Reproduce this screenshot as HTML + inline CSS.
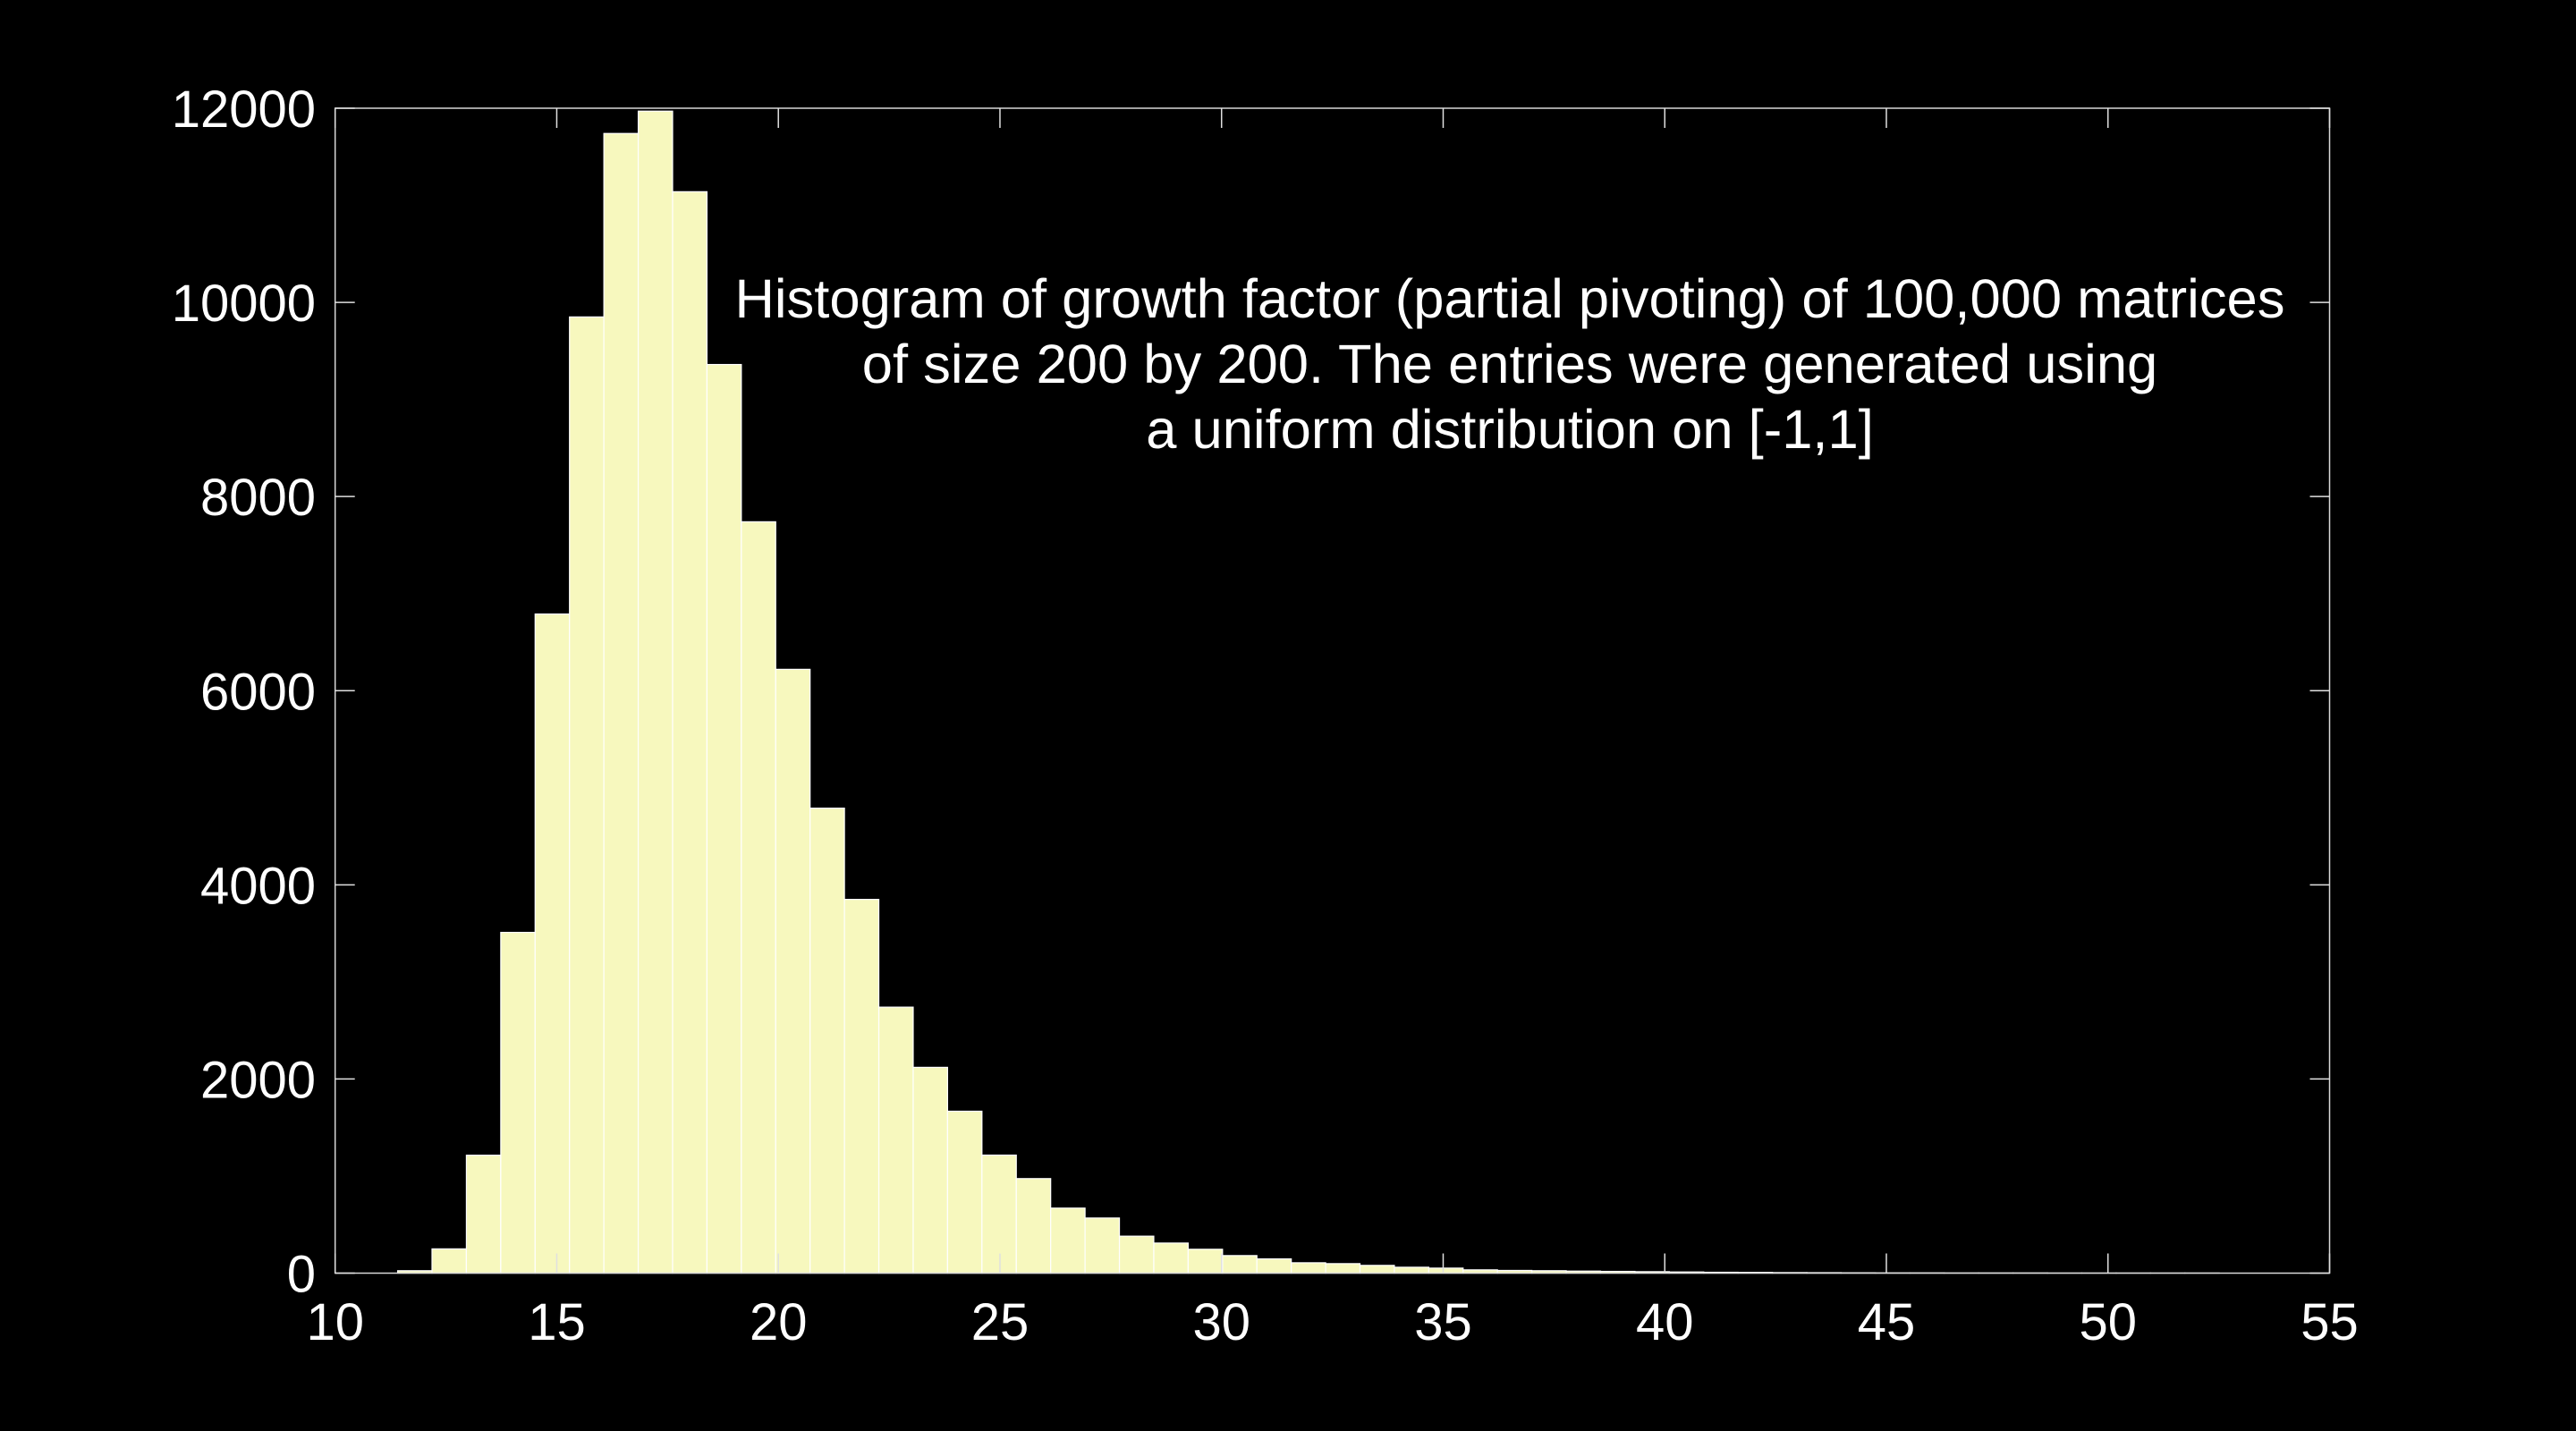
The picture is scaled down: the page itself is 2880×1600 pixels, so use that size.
<!DOCTYPE html>
<html><head><meta charset="utf-8"><style>
html,body{margin:0;padding:0;background:#000;}
svg{display:block;}
text{font-family:"Liberation Sans",sans-serif;fill:#fff;}
</style></head><body>
<svg id="chart" width="2880" height="1600" viewBox="0 0 2880 1600" xmlns="http://www.w3.org/2000/svg">
<rect width="2880" height="1600" fill="#000"/>
<g id="bars"></g>
<g id="axes"></g>
<g font-size="61.5" text-anchor="middle">
<text x="1688" y="355">Histogram of growth factor (partial pivoting) of 100,000 matrices</text>
<text x="1688" y="428">of size 200 by 200. The entries were generated using</text>
<text x="1688" y="501">a uniform distribution on [-1,1]</text>
</g>
</svg>
<script>
const binStart = 11.41;
const binWidth = 0.7755;
const counts = [25,250,1215,3510,6790,9850,11740,11970,11140,9360,7740,6220,4790,3850,2740,2120,1668,1216,974,670,568,381,310,246,181,147,107,98,80,61,52,34,28,25,21,18,15,12,9,8,6,5,4,3,3,2,2,2,1,1,1,1,1];
const xTicks = [10,15,20,25,30,35,40,45,50,55];
const yTicks = [0,2000,4000,6000,8000,10000,12000];

const L=374.7,R=2604.5,T=121,B=1423.5;
const xMin=10,xMax=55,yMax=12000;
const sx=v=>L+(v-xMin)/(xMax-xMin)*(R-L);
const sy=v=>B-v/yMax*(B-T);
const NS='http://www.w3.org/2000/svg';
const bars=document.getElementById('bars');
const axes=document.getElementById('axes');
function mk(tag,attrs,parent){const e=document.createElementNS(NS,tag);for(const k in attrs)e.setAttribute(k,attrs[k]);parent.appendChild(e);return e;}
counts.forEach((c,i)=>{
  const x0=sx(binStart+i*binWidth),x1=sx(binStart+(i+1)*binWidth);
  const r=mk('rect',{x:x0,y:sy(c),width:x1-x0,height:B-sy(c),fill:'#f7f8be',stroke:'#ffffff','stroke-width':1.2},bars);
  
  
});
const box=mk('rect',{x:L,y:T,width:R-L,height:B-T,fill:'none',stroke:'#d8d8d8','stroke-width':1.5},axes);


const tl=22;
xTicks.forEach(v=>{
  const x=sx(v);
  const t1=mk('line',{x1:x,y1:B,x2:x,y2:B-tl,stroke:'#e0e0e0','stroke-width':1.5},axes);
  
  
  const t2=mk('line',{x1:x,y1:T,x2:x,y2:T+tl,stroke:'#e0e0e0','stroke-width':1.5},axes);
  
  
  const lb=mk('text',{x:x,y:1498,'font-size':58,'text-anchor':'middle'},axes);
  lb.textContent=v;
  
  
});
yTicks.forEach(v=>{
  const y=sy(v);
  const t1=mk('line',{x1:L,y1:y,x2:L+tl,y2:y,stroke:'#e0e0e0','stroke-width':1.5},axes);
  
  
  const t2=mk('line',{x1:R,y1:y,x2:R-tl,y2:y,stroke:'#e0e0e0','stroke-width':1.5},axes);
  
  
  const lb=mk('text',{x:353,y:y+21,'font-size':58,'text-anchor':'end'},axes);
  lb.textContent=v;
  
  
});
</script>
</body></html>
